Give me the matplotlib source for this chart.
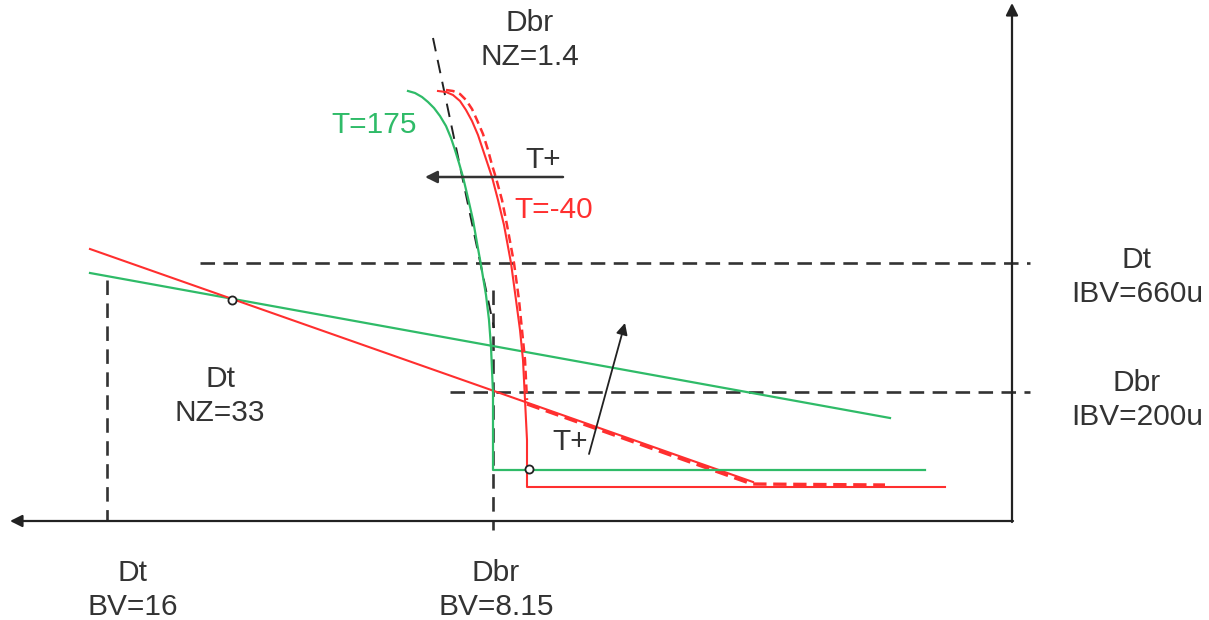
import numpy as np
import matplotlib.pyplot as plt

plt.rcParams["font.family"] = ["Liberation Sans", "DejaVu Sans"]

# -----------------------------
# Sketch data (schematic units: x grows to the left-> higher |V|, y grows down -> lower I)
# -----------------------------
GREEN = "#2fbb68"
RED = "#ff2f2f"
INK = "#333333"

# Dbr breakdown knee, T=175
dbr_hot_x = [408, 415, 422, 428, 434, 440, 446, 451, 455, 459, 463, 468, 473, 477, 481, 486, 489, 491, 493, 493, 925]
dbr_hot_y = [91, 93, 97, 102, 108, 116, 126, 138, 150, 163, 177, 198, 220, 243, 265, 295, 320, 347, 393, 470, 470]

# Dbr breakdown knee, T=-40 (solid)
dbr_cold_x = [438, 446, 453, 460, 466, 472, 478, 483, 488, 492, 498, 504, 511, 516, 520, 523, 525, 527, 527, 945]
dbr_cold_y = [91, 92, 95, 101, 110, 121, 135, 150, 165, 177, 200, 225, 263, 300, 330, 360, 400, 440, 487, 487]

# Dbr breakdown knee, T=-40 (dashed companion)
dbr_cold2_x = [446, 453, 460, 466, 472, 477, 483, 488, 492, 496, 502, 507, 514, 519, 522, 525, 527]
dbr_cold2_y = [90, 91, 94, 100, 109, 120, 134, 150, 165, 178, 200, 225, 263, 300, 330, 360, 400]

# Dt leakage lines
dt_hot_x = [90, 890]
dt_hot_y = [273, 418]
dt_cold_x = [90, 753]
dt_cold_y = [249, 482]
dt_cold2_x = [527, 752, 885]
dt_cold2_y = [404, 484, 485]

# NZ=1.4 tangent
nz_x = [433, 494]
nz_y = [38, 328]

# reference levels
ibv_dt = 263
ibv_dbr = 392
bv_dt = 107
bv_dbr = 493

# marked crossing points
pts_x = [232, 529]
pts_y = [300, 469]


fig = plt.figure(figsize=(12.09, 6.20), dpi=100)
ax = fig.add_axes([0, 0, 1, 1])
ax.set_xlim(0, 1209)
ax.set_ylim(620, 0)
ax.axis("off")

dash = (5.5, 3.2)

# axes of the sketch
ax.annotate("", xy=(10, 521), xytext=(1013, 521),
            arrowprops=dict(arrowstyle="-|>", color="#222222", lw=1.6,
                            mutation_scale=18, shrinkA=0, shrinkB=0))
ax.annotate("", xy=(1012, 3), xytext=(1012, 522),
            arrowprops=dict(arrowstyle="-|>", color="#222222", lw=1.6,
                            mutation_scale=18, shrinkA=0, shrinkB=0))

# dashed guide lines
ax.plot([200, 1030], [ibv_dt, ibv_dt], color=INK, lw=1.9, dashes=dash)
ax.plot([450, 1030], [ibv_dbr, ibv_dbr], color=INK, lw=1.9, dashes=dash)
ax.plot([bv_dt, bv_dt], [280, 521], color=INK, lw=1.9, dashes=dash)
ax.plot([bv_dbr, bv_dbr], [290, 530], color=INK, lw=1.9, dashes=dash)
ax.plot(nz_x, nz_y, color="#222222", lw=1.4, dashes=(7, 4.5))

# curves
ax.plot(dt_hot_x, dt_hot_y, color=GREEN, lw=1.6)
ax.plot(dt_cold_x, dt_cold_y, color=RED, lw=1.5)
ax.plot(dt_cold2_x, dt_cold2_y, color=RED, lw=2.4, dashes=(4, 2))
ax.plot(dbr_hot_x, dbr_hot_y, color=GREEN, lw=1.6)
ax.plot(dbr_cold_x, dbr_cold_y, color=RED, lw=1.5)
ax.plot(dbr_cold2_x, dbr_cold2_y, color=RED, lw=1.8, dashes=(3.5, 2))

ax.scatter(pts_x, pts_y, s=34, facecolor="white", edgecolor="#222222",
           linewidth=1.3, zorder=5)

# temperature arrows
ax.annotate("", xy=(425, 177), xytext=(563, 177),
            arrowprops=dict(arrowstyle="-|>", color=INK, lw=1.8,
                            mutation_scale=18, shrinkA=0, shrinkB=0))
ax.annotate("", xy=(625, 323), xytext=(589, 454),
            arrowprops=dict(arrowstyle="-|>", color="#222222", lw=1.3,
                            mutation_scale=17, shrinkA=0, shrinkB=0))

# labels
fs = 21.5
ls = 1.3
txt = dict(ha="center", va="center", fontsize=fs, color=INK, linespacing=ls)
ax.text(530, 40, "Dbr\nNZ=1.4", **txt)
ax.text(1137, 277, "Dt\nIBV=660u", **txt)
ax.text(1137, 400, "Dbr\nIBV=200u", **txt)
ax.text(220, 396, "Dt\nNZ=33", **txt)
ax.text(133, 590, "Dt\nBV=16", **txt)
ax.text(496, 590, "Dbr\nBV=8.15", **txt)
ax.text(543, 160, "T+", **txt)
ax.text(570, 442, "T+", **txt)
ax.text(374, 125, "T=175", ha="center", va="center", fontsize=fs, color=GREEN)
ax.text(554, 210, "T=-40", ha="center", va="center", fontsize=fs, color=RED)

fig.savefig("out.png", dpi=100)
